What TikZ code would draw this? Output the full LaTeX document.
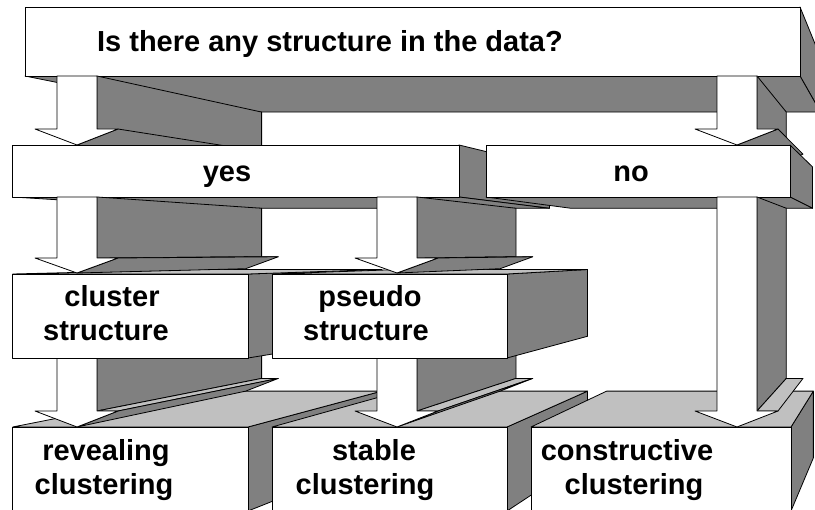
\documentclass[tikz,border=0pt]{standalone}
\usepackage{fontspec}
\setmainfont{Liberation Sans}
\usetikzlibrary{calc}
\definecolor{shade}{RGB}{128,128,128}
\definecolor{lightshade}{RGB}{192,192,192}
\def\dep{0.205}
\tikzset{
  facebase/.style={draw=black, line width=0.8pt, line join=round},
  darkface/.style={facebase, fill=shade},
  lightface/.style={facebase, fill=lightshade},
  frontface/.style={facebase, fill=white},
  noface/.style={draw=none, fill=none},
  lbl/.style={font=\bfseries\fontsize{29}{34}\selectfont, anchor=base, inner sep=0pt}
}
% extruded box: name, x1, y1, x2, y2, bottom-face style, top-face style
\newcommand\xcube[7]{%
  \coordinate (#1-nw) at (#2,#3);
  \coordinate (#1-ne) at (#4,#3);
  \coordinate (#1-se) at (#4,#5);
  \coordinate (#1-sw) at (#2,#5);
  \foreach \cn in {nw,ne,se,sw}{\coordinate (#1-b\cn) at ($(#1-\cn)!\dep!(VP)$);}
  \draw[darkface] (#1-ne) -- (#1-se) -- (#1-bse) -- (#1-bne) -- cycle;
  \draw[#6] (#1-sw) -- (#1-se) -- (#1-bse) -- (#1-bsw) -- cycle;
  \draw[#7] (#1-nw) -- (#1-ne) -- (#1-bne) -- (#1-bnw) -- cycle;
  \draw[frontface] (#1-nw) rectangle (#1-se);
}
% extruded block arrow: name, centre x, shaft top, head base, tip, barb-top style, barb-low style
\newcommand\mkarrow[7]{%
  \coordinate (#1-a) at ({#2-20},#3);
  \coordinate (#1-b) at ({#2+20},#3);
  \coordinate (#1-c) at ({#2+20},#4);
  \coordinate (#1-d) at ({#2+41},#4);
  \coordinate (#1-e) at (#2,#5);
  \coordinate (#1-f) at ({#2-42},#4);
  \coordinate (#1-g) at ({#2-20},#4);
  \foreach \cn in {b,c,d,e}{\coordinate (#1-k\cn) at ($(#1-\cn)!\dep!(VP)$);}
  \draw[darkface] (#1-b) -- (#1-c) -- (#1-kc) -- (#1-kb) -- cycle;
  \draw[#6] (#1-c) -- (#1-d) -- (#1-kd) -- (#1-kc) -- cycle;
  \draw[#7] (#1-d) -- (#1-e) -- (#1-ke) -- (#1-kd) -- cycle;
  \draw[frontface] (#1-a) -- (#1-b) -- (#1-c) -- (#1-d) -- (#1-e) -- (#1-f) -- (#1-g) -- cycle;
}
\begin{document}
\begin{tikzpicture}[x=1pt, y=-1pt]
\useasboundingbox (0,0) rectangle (815,510);
\clip (0,0) rectangle (815,510);
\fill[white] (0,0) rectangle (815,510);
\coordinate (VP) at (900,252);
% top question box and its arrows
\xcube{top}{25}{7}{800}{76}{darkface}{noface}
\mkarrow{ano}{737}{76}{129}{145}{noface}{darkface}
\mkarrow{ayes}{77}{76}{129}{145}{noface}{darkface}
% yes / no
\xcube{yes}{12.7}{145}{459}{197}{darkface}{noface}
\xcube{no}{486}{145}{790}{197}{darkface}{noface}
% bottom row
\xcube{rev}{12.7}{427}{248}{511}{noface}{lightface}
\xcube{sta}{272}{427}{507}{511}{noface}{lightface}
\xcube{con}{531}{427}{791}{511}{noface}{lightface}
\mkarrow{arev}{77}{358}{411}{427}{lightface}{darkface}
\mkarrow{asta}{397}{358}{411}{427}{lightface}{darkface}
\mkarrow{acon}{737}{197}{411}{427}{lightface}{noface}
% middle row
\xcube{clu}{12.7}{274}{248}{358}{noface}{lightface}
\xcube{pse}{272}{274}{507}{358}{noface}{lightface}
\mkarrow{aclu}{77}{197}{258}{273}{lightface}{darkface}
\mkarrow{apse}{397}{197}{258}{273}{lightface}{darkface}
% labels
\node[lbl] (q) at (330,52) {Is there any structure in the data?};
\node[lbl] (tyes) at (227,181.5) {yes};
\node[lbl] (tno) at (631,181.5) {no};
\node[lbl] (tclu1) at (112,307) {cluster};
\node[lbl] (tclu2) at (106,341) {structure};
\node[lbl] (tpse1) at (370,307) {pseudo};
\node[lbl] (tpse2) at (366,341) {structure};
\node[lbl] (trev1) at (106,461) {revealing};
\node[lbl] (trev2) at (104,495) {clustering};
\node[lbl] (tsta1) at (374,461) {stable};
\node[lbl] (tsta2) at (365,495) {clustering};
\node[lbl] (tcon1) at (627,461) {constructive};
\node[lbl] (tcon2) at (634,495) {clustering};
\end{tikzpicture}
\end{document}
